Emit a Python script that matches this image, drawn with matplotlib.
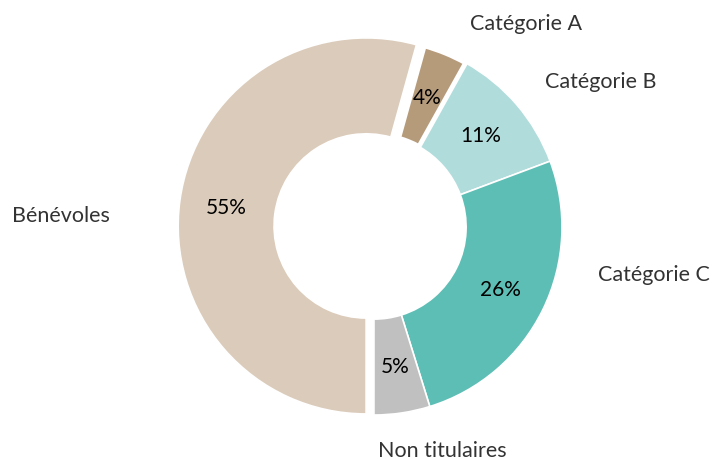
import numpy as np
import matplotlib
matplotlib.use('Agg')
import matplotlib.pyplot as plt

plt.rcParams['font.family'] = ['Lato', 'DejaVu Sans']

# Data (shares in %, order clockwise from the top)
categories = ['Catégorie A', 'Catégorie B', 'Catégorie C', 'Non titulaires', 'Bénévoles']
shares = [3.8, 11.2, 25.9, 4.8, 54.3]
pct_labels = ['4%', '11%', '26%', '5%', '55%']
colors = ['#b69b7b', '#b0dcdb', '#5dbeb5', '#c0c0c0', '#dbcbba']
explode = [0, 0, 0, 0, 0.042]

# label positions in pixels (x, y from top) and alignment
label_pos = [(470, 24, 'left'), (545, 82, 'left'), (598, 275, 'left'),
             (378, 451, 'left'), (110, 216, 'right')]

W, H = 712, 460
cx, cy, R = 374, 228, 188  # pie centre and radius in pixels

fig = plt.figure(figsize=(W / 100, H / 100), dpi=100)
ax = fig.add_axes([0, 0, 1, 1])

wedges, _ = ax.pie(shares, colors=colors, explode=explode, startangle=74.5,
                   counterclock=False, radius=1,
                   wedgeprops=dict(width=0.51, edgecolor='white', linewidth=1.2))

# small separation around the category A slice
wedges[0].set_linewidth(3.5)
wedges[0].set_zorder(3)

# percentage labels in the middle of the ring
for w, txt in zip(wedges, pct_labels):
    ang = np.deg2rad((w.theta1 + w.theta2) / 2)
    x0, y0 = w.center
    ax.text(x0 + 0.75 * np.cos(ang), y0 + 0.75 * np.sin(ang), txt,
            ha='center', va='center', fontsize=15, color='black', zorder=5)

# category labels around the ring
for name, (px, py, ha) in zip(categories, label_pos):
    ax.text((px - cx) / R, (cy - py) / R, name, ha=ha, va='center',
            fontsize=15.5, color='#333333')

ax.set_xlim(-cx / R, (W - cx) / R)
ax.set_ylim(-(H - cy) / R, cy / R)
ax.set_aspect('auto')
ax.axis('off')

plt.savefig('out.png', dpi=100)
